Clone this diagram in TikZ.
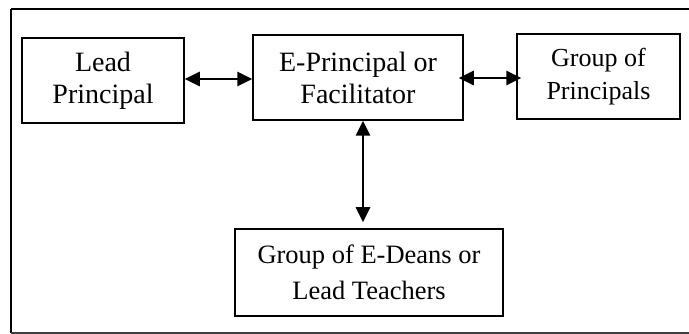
\documentclass[tikz,border=0pt]{standalone}
\usepackage{fontspec}
\setmainfont{Liberation Serif}
\usetikzlibrary{arrows.meta}
\begin{document}
\begin{tikzpicture}[x=1pt,y=-1pt,
  box/.style={draw, line width=1.5pt, inner sep=0pt, align=center},
  link/.style={line width=2.6pt, {Triangle[length=15pt,width=14pt]}-{Triangle[length=15pt,width=14pt]}}]
\useasboundingbox (0,0) rectangle (689,334);
% outer frame (right side cut off)
\draw[line width=2pt] (11,9.5) -- (690,9.5);
\draw[line width=2pt] (11,9.5) -- (11,333);
\draw[line width=1.6pt, black!75] (11,333) -- (690,333);
% boxes
\node[box, minimum width=162pt, minimum height=85pt, font=\fontsize{28}{32}\selectfont] (lp) at (103,80.5) {Lead\\Principal};
\node[box, minimum width=210pt, minimum height=85pt, font=\fontsize{28}{32}\selectfont] (ep) at (358,77.5) {E-Principal or\\Facilitator};
\node[box, minimum width=163pt, minimum height=85pt, font=\fontsize{26}{33}\selectfont] (gp) at (598.5,76.5) {Group of\\Principals};
\node[box, minimum width=268pt, minimum height=87pt, font=\fontsize{26.5}{36}\selectfont] (gd) at (369,272.5) {Group of E-Deans or\\Lead Teachers};
% connectors
\draw[link] ([yshift=1.5pt]lp.east) -- ([yshift=-1.5pt]ep.west);
\draw[link, shorten <=-5pt, shorten >=-5pt] ([yshift=-0.5pt]ep.east) -- ([yshift=-1.5pt]gp.west);
\draw[link, shorten >=6pt] ([xshift=5pt]ep.south) -- ([xshift=-6pt]gd.north);
\end{tikzpicture}
\end{document}
